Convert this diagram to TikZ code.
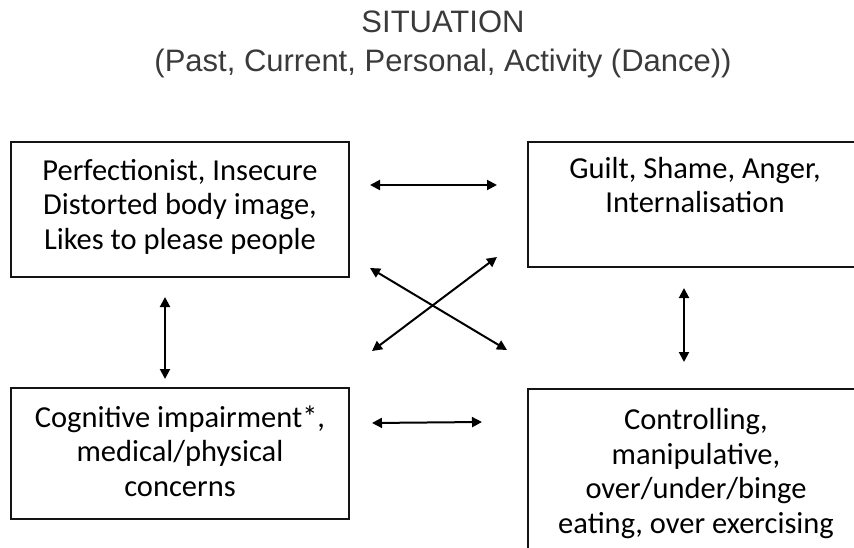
\documentclass[tikz,border=0pt]{standalone}
\usepackage{fontspec}
\setmainfont{Carlito}
\newfontfamily\titlefont{Liberation Sans}
\usetikzlibrary{arrows.meta}
\definecolor{titlegray}{HTML}{3A3A3A}
\tikzset{
  boxnode/.style={draw=black!92, line width=1.8pt, inner sep=0pt, rectangle},
  boxtext/.style={align=center, anchor=base, inner sep=0pt, font=\fontsize{30.5}{34.5}\selectfont},
  titletext/.style={align=center, anchor=base, inner sep=0pt, text=titlegray, font=\titlefont\fontsize{31}{39}\selectfont},
  arr/.style={line width=2pt, {Triangle[length=10pt,width=10pt]}-{Triangle[length=10pt,width=10pt]}}
}
\begin{document}
\begin{tikzpicture}[x=1pt,y=-1pt]
\useasboundingbox (0,0) rectangle (854,548);
\clip (0,0) rectangle (854,548);
% title (anchor base = last line's baseline)
\node[titletext] (title) at (443,71.5) {SITUATION\\(Past, Current, Personal, Activity (Dance))};
% boxes
\node[boxnode, minimum width=338pt, minimum height=135pt] (b1) at (180,209.5) {};
\node[boxnode, minimum width=334pt, minimum height=125pt] (b2) at (695,204.5) {};
\node[boxnode, minimum width=338pt, minimum height=131pt] (b3) at (180,453.5) {};
\node[boxnode, minimum width=334pt, minimum height=220pt] (b4) at (695,499) {};
% texts
\node[boxtext] (t1) at (180,249) {Perfectionist, Insecure\\Distorted body image,\\Likes to please people};
\node[boxtext] (t2) at (695,213) {Guilt, Shame, Anger,\\Internalisation};
\node[boxtext] (t3) at (180,496) {Cognitive impairment*,\\medical/physical\\concerns};
\node[boxtext] (t4) at (696,533) {Controlling,\\manipulative,\\over/under/binge\\eating, over exercising};
% arrow end points
\coordinate (h1a) at (370,185);
\coordinate (h1b) at (497,185);
\coordinate (d1a) at (370,268);
\coordinate (d1b) at (507,350);
\coordinate (d2a) at (372,351);
\coordinate (d2b) at (497,257);
\coordinate (v1a) at (165,297);
\coordinate (v1b) at (165,379);
\coordinate (v2a) at (684,288);
\coordinate (v2b) at (684,362);
\coordinate (h2a) at (372,423);
\coordinate (h2b) at (482,422);
\draw[arr] (h1a) -- (h1b);
\draw[arr] (d1a) -- (d1b);
\draw[arr] (d2a) -- (d2b);
\draw[arr] (v1a) -- (v1b);
\draw[arr] (v2a) -- (v2b);
\draw[arr] (h2a) -- (h2b);
\end{tikzpicture}
\end{document}
